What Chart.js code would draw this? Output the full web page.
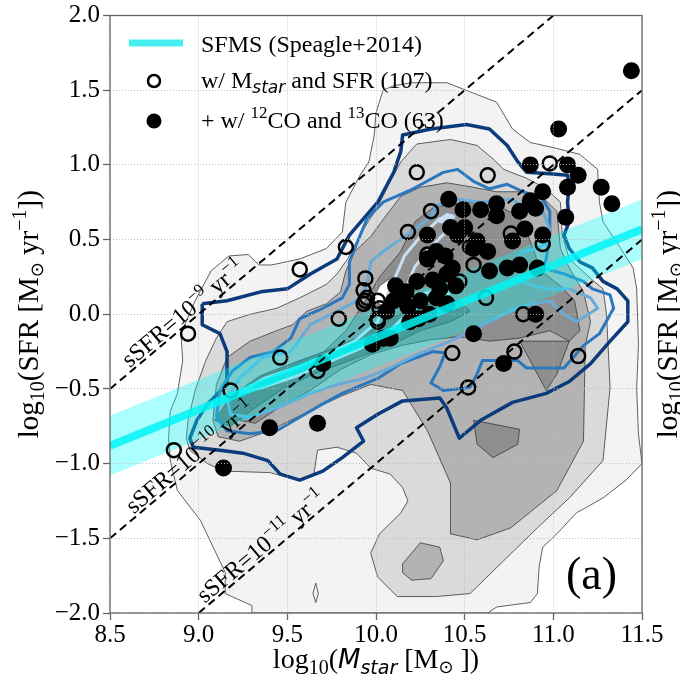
<!DOCTYPE html>
<html>
<head>
<meta charset="utf-8">
<script src="https://cdn.jsdelivr.net/npm/chart.js@4.4.0/dist/chart.umd.min.js"></script>
<style>
  html, body { margin: 0; padding: 0; background: #fff; }
</style>
</head>
<body>
<canvas id="c" width="680" height="683"></canvas>
<script>
// gray density contours (filled), data units: [log Mstar, log SFR]
const contourL1 = [[9.30,-2.00],[9.30,-1.95],[9.15,-1.87],[9.15,-1.73],[9.01,-1.38],[8.88,-1.18],[8.84,-0.98],[8.83,-0.83],[8.84,-0.65],[8.88,-0.53],[8.91,-0.31],[8.90,-0.13],[8.98,0.09],[9.07,0.29],[9.17,0.39],[9.28,0.40],[9.34,0.33],[9.41,0.33],[9.57,0.37],[9.72,0.44],[9.81,0.55],[9.83,0.75],[9.91,0.93],[9.96,1.02],[9.99,1.20],[10.00,1.35],[10.04,1.50],[10.10,1.53],[10.20,1.55],[10.40,1.55],[10.55,1.48],[10.68,1.42],[10.77,1.24],[10.87,1.15],[11.02,1.11],[11.15,1.07],[11.25,0.97],[11.26,0.75],[11.28,0.62],[11.38,0.44],[11.45,0.31],[11.47,0.17],[11.48,-0.20],[11.47,-0.50],[11.48,-0.80],[11.50,-1.00],[11.41,-1.11],[11.28,-1.23],[11.13,-1.33],[11.02,-1.47],[10.94,-1.56],[10.92,-1.69],[10.91,-1.87],[10.87,-1.93],[10.68,-1.96],[10.63,-2.00]];
const contourL1Speck = [[9.66,-1.80],[9.675,-1.87],[9.66,-1.93],[9.645,-1.87]];
const contourL2 = [[8.93,-0.83],[8.94,-0.71],[8.98,-0.51],[9.04,-0.31],[9.10,-0.16],[9.16,-0.05],[9.29,0.00],[9.44,0.04],[9.57,0.11],[9.72,0.20],[9.78,0.27],[9.84,0.37],[9.93,0.57],[10.01,0.72],[10.08,0.89],[10.14,1.02],[10.23,1.14],[10.42,1.17],[10.57,1.13],[10.66,1.04],[10.72,0.97],[10.85,0.91],[10.96,0.84],[11.04,0.75],[11.05,0.53],[11.09,0.37],[11.21,0.24],[11.28,0.17],[11.30,0.00],[11.32,-0.49],[11.28,-0.98],[11.09,-1.23],[10.91,-1.43],[10.72,-1.65],[10.53,-1.87],[10.34,-1.89],[10.12,-1.89],[10.01,-1.76],[9.97,-1.60],[10.02,-1.47],[10.14,-1.33],[10.18,-1.25],[10.15,-1.16],[10.08,-1.07],[9.97,-1.03],[9.89,-0.93],[9.78,-0.89],[9.67,-0.91],[9.65,-1.07],[9.57,-1.11],[9.40,-1.06],[9.14,-1.05],[9.05,-1.00],[8.95,-0.91]];
const contourL3 = [[9.08,-0.71],[9.10,-0.47],[9.16,-0.29],[9.29,-0.18],[9.44,-0.11],[9.53,-0.07],[9.61,0.02],[9.72,0.07],[9.80,0.15],[9.83,0.29],[9.88,0.42],[9.97,0.52],[10.05,0.65],[10.14,0.79],[10.25,0.85],[10.40,0.88],[10.55,0.85],[10.68,0.82],[10.81,0.82],[10.94,0.78],[11.02,0.69],[11.04,0.44],[11.09,0.31],[11.17,0.15],[11.21,-0.05],[11.18,-0.21],[11.17,-0.85],[11.02,-1.18],[10.76,-1.43],[10.57,-1.51],[10.42,-1.47],[10.42,-1.13],[10.29,-0.78],[10.15,-0.51],[9.97,-0.47],[9.80,-0.55],[9.57,-0.68],[9.40,-0.78],[9.23,-0.85],[9.11,-0.82]];
const contourL3Patch = [[10.15,-1.67],[10.25,-1.53],[10.36,-1.56],[10.38,-1.65],[10.31,-1.77],[10.20,-1.78],[10.15,-1.73]];
const contourL4 = [[9.23,-0.71],[9.35,-0.55],[9.52,-0.41],[9.68,-0.28],[9.83,-0.11],[9.94,0.09],[10.02,0.25],[10.14,0.42],[10.22,0.62],[10.33,0.72],[10.53,0.75],[10.70,0.72],[10.81,0.65],[10.87,0.49],[10.93,0.29],[11.04,0.19],[11.12,0.09],[11.15,-0.11],[11.09,-0.18],[10.98,-0.11],[10.81,-0.16],[10.64,-0.18],[10.47,-0.15],[10.31,-0.17],[10.14,-0.21],[9.97,-0.27],[9.80,-0.37],[9.63,-0.51],[9.46,-0.62],[9.32,-0.73]];
const contourL4PatchA = [[10.55,-0.71],[10.81,-0.77],[10.80,-0.87],[10.66,-0.96],[10.57,-0.87]];
const contourL4PatchB = [[10.81,-0.18],[10.96,-0.51],[11.02,-0.40],[11.09,-0.18]];
const contourL5 = [[9.09,-0.71],[9.18,-0.55],[9.35,-0.41],[9.57,-0.31],[9.80,-0.21],[9.97,-0.11],[10.11,-0.01],[10.25,0.05],[10.36,0.09],[10.47,0.09],[10.53,0.02],[10.42,-0.05],[10.25,-0.11],[10.08,-0.21],[9.85,-0.31],[9.63,-0.41],[9.46,-0.51],[9.29,-0.65],[9.18,-0.75]];
const contourCore = [[9.98,0.09],[10.02,0.19],[10.09,0.25],[10.14,0.22],[10.11,0.12],[10.05,0.05]];
const blueFillPatch = [[10.34,0.63],[10.40,0.68],[10.45,0.66],[10.43,0.61],[10.36,0.61]];

// blue contour levels (lines)
const navyLevel = [[9.02,0.07],[9.16,0.09],[9.35,0.15],[9.50,0.17],[9.63,0.27],[9.78,0.37],[9.85,0.53],[10.01,0.75],[10.10,0.95],[10.14,1.09],[10.15,1.20],[10.31,1.24],[10.51,1.27],[10.64,1.24],[10.74,1.13],[10.80,1.02],[10.85,0.95],[10.98,0.94],[11.08,0.93],[11.09,0.87],[11.08,0.75],[11.09,0.62],[11.06,0.53],[11.09,0.44],[11.15,0.35],[11.22,0.31],[11.28,0.22],[11.36,0.17],[11.42,0.09],[11.42,-0.05],[11.32,-0.18],[11.21,-0.33],[11.09,-0.45],[10.96,-0.53],[10.77,-0.59],[10.59,-0.71],[10.47,-0.83],[10.40,-0.63],[10.36,-0.56],[10.15,-0.58],[10.01,-0.67],[9.89,-0.76],[9.93,-0.85],[9.81,-0.96],[9.70,-1.05],[9.57,-1.11],[9.46,-1.07],[9.39,-0.98],[9.25,-0.93],[9.12,-0.91],[8.97,-0.89],[8.95,-0.83],[8.99,-0.71],[9.05,-0.60],[9.16,-0.47],[9.16,-0.25],[9.12,-0.13],[9.02,-0.07]];
const midBlueLevel = [[9.10,-0.69],[9.12,-0.51],[9.19,-0.38],[9.29,-0.29],[9.42,-0.25],[9.52,-0.16],[9.57,-0.03],[9.70,0.04],[9.81,0.11],[9.85,0.20],[9.85,0.35],[9.89,0.47],[9.95,0.64],[10.04,0.75],[10.21,0.84],[10.38,0.95],[10.46,0.97],[10.55,0.89],[10.64,0.84],[10.74,0.87],[10.83,0.82],[10.94,0.77],[10.98,0.69],[10.98,0.55],[10.96,0.37],[10.94,0.31],[11.06,0.27],[11.17,0.22],[11.22,0.17],[11.32,0.13],[11.34,0.04],[11.26,-0.13],[11.17,-0.21],[11.06,-0.36],[10.85,-0.36],[10.80,-0.31],[10.60,-0.31],[10.57,-0.40],[10.53,-0.49],[10.38,-0.51],[10.31,-0.46],[10.36,-0.35],[10.39,-0.26],[10.32,-0.25],[10.14,-0.33],[10.01,-0.43],[9.81,-0.53],[9.70,-0.60],[9.57,-0.69],[9.44,-0.78],[9.29,-0.80],[9.16,-0.78]];
const lightBlueLevel = [[9.16,-0.56],[9.23,-0.43],[9.36,-0.29],[9.52,-0.25],[9.63,-0.07],[9.78,0.02],[9.89,0.09],[9.95,0.20],[9.97,0.35],[10.04,0.42],[10.15,0.51],[10.31,0.65],[10.34,0.73],[10.46,0.77],[10.59,0.75],[10.77,0.77],[10.85,0.69],[10.94,0.69],[10.98,0.57],[10.98,0.49],[10.91,0.44],[10.83,0.42],[10.80,0.37],[10.81,0.22],[10.96,0.17],[11.09,0.17],[11.21,0.11],[11.25,0.04],[11.13,-0.05],[11.06,0.00],[10.98,0.09],[10.81,0.05],[10.64,-0.05],[10.42,-0.18],[10.23,-0.27],[10.08,-0.36],[9.93,-0.43],[9.78,-0.47],[9.63,-0.53],[9.44,-0.63],[9.29,-0.69],[9.18,-0.67]];
const palestBlueLevel = [[9.22,-0.53],[9.37,-0.43],[9.57,-0.35],[9.74,-0.26],[9.88,-0.18],[10.01,-0.05],[10.05,0.09],[10.11,0.25],[10.16,0.39],[10.25,0.52],[10.36,0.64],[10.43,0.66],[10.41,0.57],[10.31,0.45],[10.22,0.32],[10.16,0.15],[10.25,0.13],[10.36,0.17],[10.41,0.14],[10.31,0.09],[10.19,0.02],[10.08,-0.11],[9.91,-0.23],[9.71,-0.33],[9.56,-0.41],[9.36,-0.49]];

// SFMS (Speagle+2014) and its +-0.2 dex band
const sfmsX = [8.5, 11.5];
const sfmsMid = [-0.88, 0.57];
const sfmsLo = [-1.08, 0.37];
const sfmsHi = [-0.68, 0.77];

// constant sSFR lines
const ssfrExp = ['−9', '−10', '−11'];
const ssfrStart = [[8.5, -0.5], [8.5, -1.5], [9.0, -2.0]];
const ssfrEnd = [[11.0, 2.0], [11.5, 1.5], [11.5, 0.5]];
const ssfrLabelAt = [[8.95, -0.05], [8.99, -1.01], [9.39, -1.61]];

// galaxies
const openMstarSfr = [[9.83,0.45],[9.57,0.30],[9.94,0.24],[9.79,-0.03],[8.94,-0.13],[9.95,0.11],[10.01,-0.03],[9.46,-0.29],[10.23,0.95],[10.18,0.55],[10.31,0.69],[9.93,0.07],[10.02,0.04],[9.67,-0.38],[9.18,-0.51],[8.86,-0.91],[10.29,0.37],[10.29,0.40],[10.63,0.93],[10.98,1.01],[10.76,0.54],[10.94,0.47],[10.53,0.45],[10.55,0.33],[10.47,0.22],[10.62,0.11],[9.94,0.09],[10.01,-0.05],[10.83,0.00],[10.43,-0.26],[10.78,-0.25],[11.14,-0.28],[10.52,-0.49],[10.01,0.09],[9.93,0.16]];
const filledCO = [[11.44,1.63],[11.03,1.24],[10.87,1.00],[11.08,1.00],[11.14,0.93],[11.08,0.85],[11.27,0.85],[11.33,0.74],[11.07,0.65],[10.94,0.82],[10.87,0.76],[10.90,0.71],[10.81,0.69],[10.84,0.57],[10.94,0.53],[10.68,0.74],[10.68,0.66],[10.59,0.70],[10.49,0.70],[10.41,0.77],[10.29,0.53],[10.39,0.39],[10.42,0.58],[10.46,0.53],[10.50,0.58],[10.57,0.49],[10.63,0.42],[10.64,0.29],[10.74,0.31],[10.81,0.33],[10.91,0.31],[10.55,0.44],[10.43,0.31],[10.40,0.27],[10.32,0.23],[10.23,0.22],[10.17,0.15],[10.10,0.09],[10.06,0.02],[10.18,0.05],[10.25,0.09],[10.40,0.07],[10.34,0.11],[10.55,-0.13],[10.90,0.00],[10.72,-0.33],[9.98,-0.20],[10.04,-0.16],[10.34,0.42],[10.14,0.11],[10.08,-0.16],[9.70,-0.33],[9.67,-0.73],[9.40,-0.76],[9.14,-1.03],[10.11,0.19],[10.19,-0.05],[10.29,0.37],[10.45,0.19],[10.77,0.49],[10.24,-0.03],[10.30,0.00],[10.36,0.17]];

const SERIF = "'Liberation Serif', 'Times New Roman', serif";
const SANS = "'DejaVu Sans', sans-serif";

const pts = a => a.map(([x, y]) => ({ x, y }));
const closed = a => a.concat([a[0]]);

const datasets = [];
function addPoly(data, fill, edge, width) {
  datasets.push({
    data: pts(closed(data)), showLine: true, pointRadius: 0,
    borderColor: edge || 'rgba(0,0,0,0)', borderWidth: width || 0,
    polyColor: fill, order: 100 - datasets.length
  });
}
function addLine(data, color, width, dash) {
  datasets.push({
    data: pts(data), showLine: true, pointRadius: 0, borderColor: color,
    borderWidth: width, borderDash: dash || [], borderJoinStyle: 'round',
    fill: false, order: 100 - datasets.length
  });
}

const EDGE = '#3a3a3a';
addPoly(contourL1, '#f3f3f3', EDGE, 0.8);
addPoly(contourL1Speck, '#f3f3f3', EDGE, 0.8);
addPoly(contourL2, '#dadada', EDGE, 0.8);
addPoly(contourL3, '#b3b3b3', EDGE, 0.8);
addPoly(contourL3Patch, '#b3b3b3', EDGE, 0.8);
addPoly(contourL4, '#8e8e8e', EDGE, 0.8);
addPoly(contourL4PatchA, '#8e8e8e', EDGE, 0.8);
addPoly(contourL4PatchB, '#8e8e8e', EDGE, 0.8);
addPoly(contourL5, '#6a6a6a', EDGE, 0.8);
addPoly(contourCore, '#ffffff', EDGE, 0.8);
addPoly(blueFillPatch, '#c6dbef');

addLine(closed(navyLevel), '#0c3b7c', 3.5);
addLine(closed(midBlueLevel), '#2b77bd', 3);
addLine(closed(lightBlueLevel), '#66abd9', 3);
addLine(closed(palestBlueLevel), '#c9def0', 3);

// SFMS band sits under the galaxies
addPoly(sfmsX.map((x, i) => [x, sfmsLo[i]]).concat(sfmsX.map((x, i) => [x, sfmsHi[i]]).reverse()), 'rgba(0,255,255,0.33)');

datasets.push({
  data: pts(openMstarSfr), pointRadius: 7, pointBorderWidth: 2.5,
  pointBorderColor: '#000', pointBackgroundColor: 'rgba(0,0,0,0)',
  borderColor: '#000', backgroundColor: 'rgba(0,0,0,0)', order: 100 - datasets.length
});
datasets.push({
  data: pts(filledCO), pointRadius: 8.5, pointBorderWidth: 0,
  pointBackgroundColor: '#000', backgroundColor: '#000', borderColor: '#000',
  order: 100 - datasets.length
});

addLine(sfmsX.map((x, i) => [x, sfmsMid[i]]), 'rgba(0,245,245,0.85)', 8);

ssfrStart.forEach((s, i) => addLine([s, ssfrEnd[i]], '#000', 2, [8, 5]));

// fill closed contour paths, positions come from the chart's scales
const polyFill = {
  id: 'polyFill',
  beforeDatasetDraw(chart, args) {
    const ds = chart.data.datasets[args.index];
    if (!ds.polyColor) return;
    const { ctx, chartArea: a } = chart;
    ctx.save();
    ctx.beginPath();
    ctx.rect(a.left, a.top, a.right - a.left, a.bottom - a.top);
    ctx.clip();
    ctx.beginPath();
    args.meta.data.forEach((p, i) => i ? ctx.lineTo(p.x, p.y) : ctx.moveTo(p.x, p.y));
    ctx.closePath();
    ctx.fillStyle = ds.polyColor;
    ctx.fill();
    ctx.restore();
  }
};

// runs: [text, font, dy]
function runsWidth(ctx, runs) {
  let w = 0;
  runs.forEach(r => { ctx.font = r[1]; w += ctx.measureText(r[0]).width; });
  return w;
}
function drawRuns(ctx, runs, x, y, align) {
  let cx = align === 'center' ? x - runsWidth(ctx, runs) / 2 : x;
  runs.forEach(r => {
    ctx.font = r[1];
    ctx.fillText(r[0], cx, y + (r[2] || 0));
    cx += ctx.measureText(r[0]).width;
  });
}

const T = s => s + 'px ' + SERIF;
const sfrTitle = [['log', T(29)], ['10', T(20), 6], ['(SFR [M', T(29)], ['⊙', '18px ' + SANS, 5], [' yr', T(29)], ['−1', T(20), -12], ['])', T(29)]];
const mTitle = [['log', T(28)], ['10', T(20), 6], ['(', T(28)], ['M', 'italic 26px ' + SANS], ['star', 'italic 19px ' + SANS, 6], [' [M', T(28)], ['⊙', '18px ' + SANS, 5], [' ])', T(28)]];

const decorations = {
  id: 'decorations',
  afterDraw(chart) {
    const { ctx, chartArea: a, scales: { x, y } } = chart;
    ctx.save();
    ctx.fillStyle = '#000';
    ctx.textBaseline = 'alphabetic';

    // sSFR labels along the dashed lines
    const ang = Math.atan2(y.getPixelForValue(1) - y.getPixelForValue(0), x.getPixelForValue(1) - x.getPixelForValue(0));
    ssfrLabelAt.forEach(([lx, ly], i) => {
      ctx.save();
      ctx.translate(x.getPixelForValue(lx), y.getPixelForValue(ly));
      ctx.rotate(ang);
      drawRuns(ctx, [['sSFR=10', T(24)], [ssfrExp[i], T(17), -10], [' yr', T(24)], ['−1', T(17), -10]], 0, -3, 'center');
      ctx.restore();
    });

    // frame
    ctx.strokeStyle = '#666';
    ctx.lineWidth = 1.3;
    ctx.strokeRect(a.left, a.top, a.right - a.left, a.bottom - a.top);

    // axis titles
    drawRuns(ctx, mTitle, (a.left + a.right) / 2, 668, 'center');
    [38, 677].forEach(bx => {
      ctx.save();
      ctx.translate(bx, (a.top + a.bottom) / 2);
      ctx.rotate(-Math.PI / 2);
      drawRuns(ctx, sfrTitle, 0, 0, 'center');
      ctx.restore();
    });

    // legend
    ctx.strokeStyle = 'rgba(60,238,238,0.95)';
    ctx.lineWidth = 7;
    ctx.beginPath(); ctx.moveTo(129, 43); ctx.lineTo(183, 43); ctx.stroke();
    ctx.strokeStyle = '#000';
    ctx.lineWidth = 2.5;
    ctx.beginPath(); ctx.arc(154, 81, 6, 0, Math.PI * 2); ctx.stroke();
    ctx.beginPath(); ctx.arc(154, 121, 7.5, 0, Math.PI * 2); ctx.fill();
    drawRuns(ctx, [['SFMS (Speagle+2014)', T(24)]], 201, 52);
    drawRuns(ctx, [['w/ M', T(24)], ['star', 'italic 17px ' + SANS, 5], [' and SFR (107)', T(24)]], 201, 88);
    drawRuns(ctx, [['+ w/ ', T(24)], ['12', T(17), -10], ['CO and ', T(24)], ['13', T(17), -10], ['CO (63)', T(24)]], 201, 128);

    // panel tag
    ctx.font = T(46);
    ctx.fillText('(a)', 566, 589);
    ctx.restore();
  }
};

const fmt = v => (v < 0 ? '−' : '') + Math.abs(v).toFixed(1);
const tickFont = { family: SERIF, size: 25, lineHeight: 1 };

new Chart(document.getElementById('c'), {
  type: 'scatter',
  data: { datasets },
  options: {
    responsive: false,
    animation: false,
    devicePixelRatio: 1,
    events: [],
    layout: { padding: { top: 14, right: 38, left: 0, bottom: 0 } },
    plugins: { legend: { display: false }, tooltip: { enabled: false } },
    scales: {
      x: {
        type: 'linear', min: 8.5, max: 11.5,
        ticks: { stepSize: 0.5, color: '#000', font: tickFont, padding: 3, maxRotation: 0, callback: fmt },
        grid: { z: 1, color: 'rgba(185,185,185,0.9)', lineWidth: 1, tickColor: '#666', tickLength: 7, tickWidth: 1.3 },
        border: { display: false, dash: [1, 2] },
        afterFit: s => { s.height = 70; }
      },
      y: {
        type: 'linear', min: -2, max: 2,
        ticks: { stepSize: 0.5, color: '#000', font: tickFont, padding: 3, callback: fmt },
        grid: { z: 1, color: 'rgba(185,185,185,0.9)', lineWidth: 1, tickColor: '#666', tickLength: 7, tickWidth: 1.3 },
        border: { display: false, dash: [1, 2] },
        afterFit: s => { s.width = 110; }
      }
    }
  },
  plugins: [polyFill, decorations]
});
</script>
</body>
</html>
